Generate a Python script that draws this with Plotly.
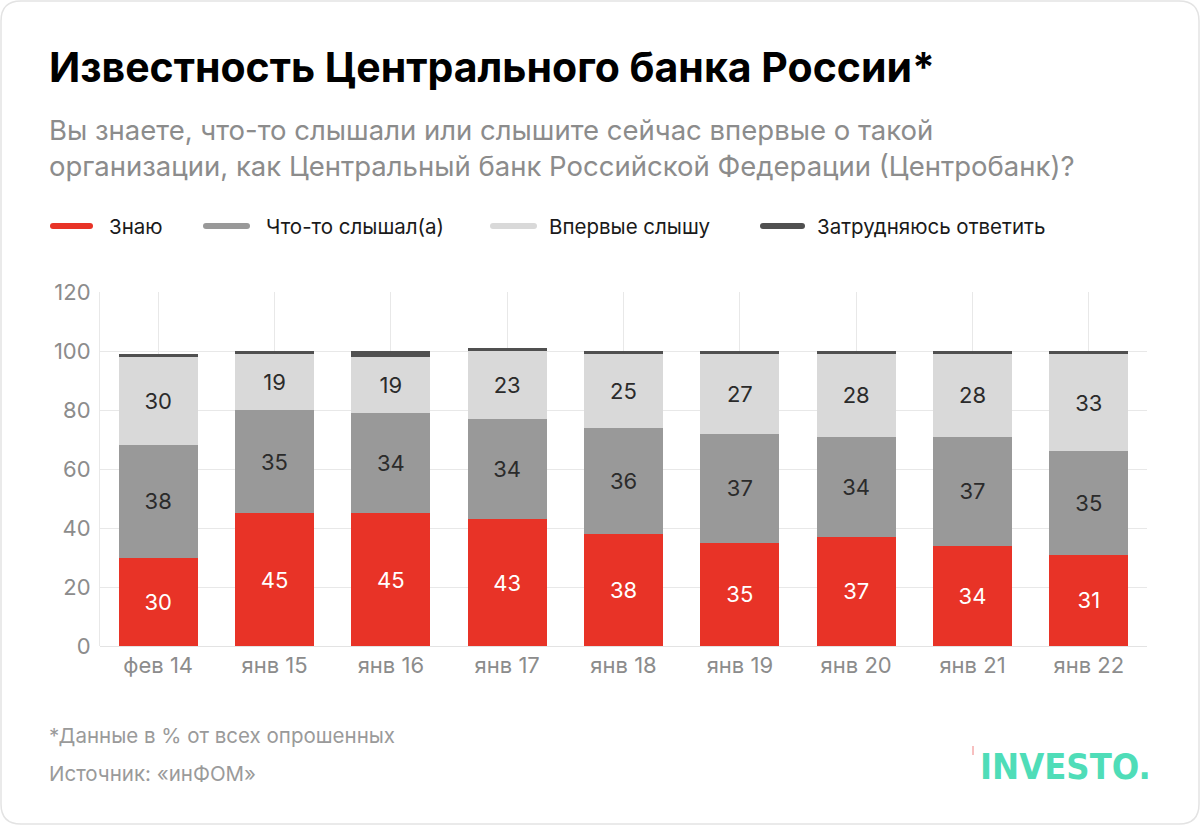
import plotly.graph_objects as go

categories = ["фев 14", "янв 15", "янв 16", "янв 17", "янв 18", "янв 19", "янв 20", "янв 21", "янв 22"]
know = [30, 45, 45, 43, 38, 35, 37, 34, 31]
heard = [38, 35, 34, 34, 36, 37, 34, 37, 35]
first_time = [30, 19, 19, 23, 25, 27, 28, 28, 33]
hard = [1, 1, 2, 1, 1, 1, 1, 1, 1]
series_names = ["Знаю", "Что-то слышал(а)", "Впервые слышу", "Затрудняюсь ответить"]
series_colors = ["#E83327", "#999999", "#D9D9D9", "#505050"]
label_colors = ["#FFFFFF", "#2B2B2B", "#2B2B2B", None]
y_ticks = [0, 20, 40, 60, 80, 100, 120]

FONT = "Inter"
L, R, T, B = 100, 53, 292, 179
W, H = 1200, 825
PW, PH = W - L - R, H - T - B


def px(x):
    return (x - L) / PW


def py(y):
    return (H - B - y) / PH


def rounded_rect(xa, ya, xb, yb, r):
    x0, x1 = px(xa), px(xb)
    y1, y0 = py(ya), py(yb)
    rx, ry = r / PW, r / PH
    return (f"M {x0+rx},{y1} L {x1-rx},{y1} Q {x1},{y1} {x1},{y1-ry} L {x1},{y0+ry} Q {x1},{y0} {x1-rx},{y0} "
            f"L {x0+rx},{y0} Q {x0},{y0} {x0},{y0+ry} L {x0},{y1-ry} Q {x0},{y1} {x0+rx},{y1} Z")


fig = go.Figure()
for name, vals, col, lc in zip(series_names, [know, heard, first_time, hard], series_colors, label_colors):
    fig.add_trace(go.Bar(
        x=categories, y=vals, name=name, marker=dict(color=col, line=dict(width=0)),
        text=[str(v) for v in vals] if lc else None,
        textposition="inside" if lc else "none",
        insidetextanchor="middle",
        textfont=dict(family=FONT, size=22, color=lc if lc else "#000"),
        showlegend=False, hoverinfo="x+y+name",
    ))

shapes = []
annotations = []
# card border
shapes.append(dict(type="path", path=rounded_rect(1, 1, 1199, 824, 20), xref="paper", yref="paper",
                   line=dict(color="#E3E3E3", width=1.5), layer="below"))

# legend
leg_line = [(50, 93), (203, 250), (490, 537), (760, 805)]
leg_text = [107, 264, 547, 815]
for name, col, (la, lb), tx in zip(series_names, series_colors, leg_line, leg_text):
    shapes.append(dict(type="path", path=rounded_rect(la, 223, lb, 229, 3), xref="paper", yref="paper",
                       fillcolor=col, line=dict(width=0)))
    annotations.append(dict(text=name, xref="paper", yref="paper", x=px(tx), y=py(226), xanchor="left", yanchor="middle",
                            showarrow=False, font=dict(family=FONT, size=20.5, color="#1A1A1A")))

# title & subtitle
annotations.append(dict(text="<b>Известность Центрального банка России*</b>", xref="paper", yref="paper",
                        x=px(47), y=py(67), xanchor="left", yanchor="middle", showarrow=False,
                        font=dict(family=FONT, size=41, color="#000000")))
annotations.append(dict(text="Вы знаете, что-то слышали или слышите сейчас впервые о такой<br>организации, как Центральный банк Российской Федерации (Центробанк)?",
                        xref="paper", yref="paper", x=px(47), y=py(148), xanchor="left", yanchor="middle", showarrow=False,
                        align="left", font=dict(family=FONT, size=27.5, color="#8C8C8C")))
# footer
annotations.append(dict(text="*Данные в % от всех опрошенных", xref="paper", yref="paper", x=px(47), y=py(735),
                        xanchor="left", yanchor="middle", showarrow=False, font=dict(family=FONT, size=20.5, color="#9A9A9A")))
annotations.append(dict(text="Источник: «инФОМ»", xref="paper", yref="paper", x=px(47), y=py(773),
                        xanchor="left", yanchor="middle", showarrow=False, font=dict(family=FONT, size=20.5, color="#9A9A9A")))
# logo
annotations.append(dict(text="<b>INVESTO.</b>", xref="paper", yref="paper", x=px(1153), y=py(766),
                        xanchor="right", yanchor="middle", showarrow=False,
                        font=dict(family="DejaVu Sans Condensed", size=36, color="#4FDDB8")))
shapes.append(dict(type="line", xref="paper", yref="paper", x0=px(973), x1=px(973), y0=py(746), y1=py(755),
                   line=dict(color="#F08080", width=1)))

fig.update_layout(
    width=W, height=H, barmode="stack", bargap=0.32,
    margin=dict(l=L, r=R, t=T, b=B),
    paper_bgcolor="white", plot_bgcolor="white",
    showlegend=False, shapes=shapes, annotations=annotations,
    font=dict(family=FONT),
    xaxis=dict(showgrid=True, gridcolor="#E8E8E8", gridwidth=1, tickfont=dict(family=FONT, size=22, color="#8C8C8C"),
               ticks="", ticklen=0, showline=False, fixedrange=True, ticklabelstandoff=4),
    yaxis=dict(range=[0, 120], tickvals=y_ticks, showgrid=True, gridcolor="#E8E8E8", gridwidth=1,
               zeroline=True, zerolinecolor="#E3E3E3", zerolinewidth=1,
               showline=True, linecolor="#E8E8E8", linewidth=1,
               tickfont=dict(family=FONT, size=22, color="#8C8C8C"), ticks="", ticklabelstandoff=4, fixedrange=True),
    uniformtext=dict(mode="show", minsize=10),
)
fig.write_html("out.html", config={"displayModeBar": False},
               post_script="document.body.style.margin='0';document.body.style.overflow='hidden';")
